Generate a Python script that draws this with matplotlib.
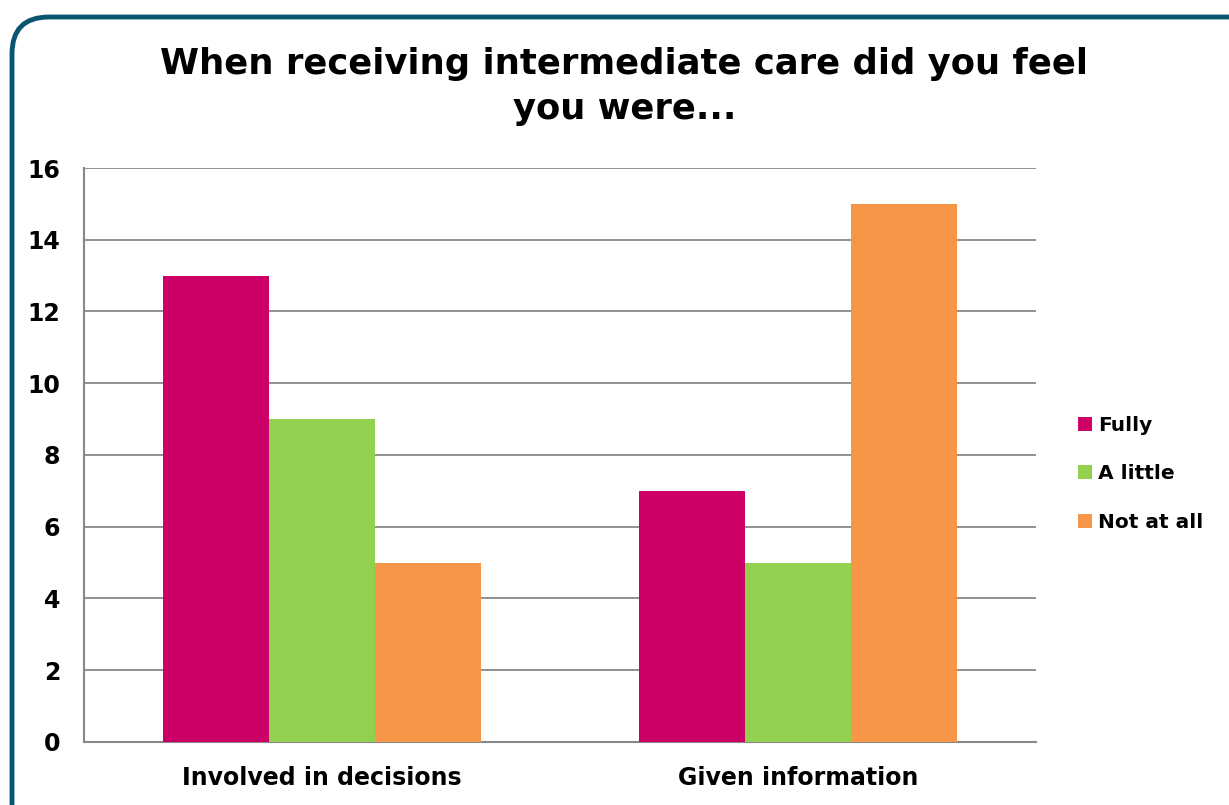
import numpy as np
import matplotlib
matplotlib.use("Agg")
import matplotlib.pyplot as plt
from matplotlib.patches import FancyBboxPatch

categories = ["Involved in decisions", "Given information"]
series = ["Fully", "A little", "Not at all"]
fully = [13, 7]
a_little = [9, 5]
not_at_all = [5, 15]
colors = ["#CC0066", "#92D050", "#F79646"]
yticks = [0, 2, 4, 6, 8, 10, 12, 14, 16]

plt.rcParams["font.family"] = ["DejaVu Sans"]
plt.rcParams["font.weight"] = "bold"

fig = plt.figure(figsize=(12.29, 8.05), dpi=100)
ax = fig.add_axes([0.0683, 0.0783, 0.7746, 0.713])

x = np.arange(len(categories))
w = 0.2227
for i, (name, vals) in enumerate(zip(series, [fully, a_little, not_at_all])):
    ax.bar(x + (i - 1) * w, vals, w, color=colors[i], label=name, zorder=3)

ax.set_xlim(-0.5, 1.5)
ax.set_ylim(0, 16)
ax.set_yticks(yticks)
ax.set_xticks(x)
ax.set_xticklabels(categories, fontsize=17, fontweight="bold")
ax.tick_params(axis="y", labelsize=17, length=0, pad=17)
ax.tick_params(axis="x", length=0, pad=17)
for lab in ax.get_yticklabels():
    lab.set_fontweight("bold")
ax.yaxis.grid(True, color="#888888", lw=1.3, zorder=0)
for s in ["top", "right"]:
    ax.spines[s].set_visible(False)
for s in ["left", "bottom"]:
    ax.spines[s].set_color("#888888")
    ax.spines[s].set_linewidth(1.5)

fig.text(0.508, 0.893, "When receiving intermediate care did you feel\nyou were...",
         ha="center", va="center", fontsize=25.5, fontweight="bold", linespacing=1.4)

ax.legend(loc="center left", bbox_to_anchor=(1.044, 0.467), frameon=False,
          prop={"size": 14.5, "weight": "bold"}, handlelength=0.7, handleheight=0.7,
          handletextpad=0.3, labelspacing=1.45, borderpad=0, borderaxespad=0)

border = FancyBboxPatch((12 / 1229, -0.05), 1.1, 0.05 + (805 - 17) / 805,
                        boxstyle="round,pad=0,rounding_size=0.03",
                        transform=fig.transFigure, fill=False,
                        edgecolor="#0B5570", lw=3.5, mutation_aspect=1229 / 805)
fig.add_artist(border)

fig.savefig("out.png", dpi=100)
